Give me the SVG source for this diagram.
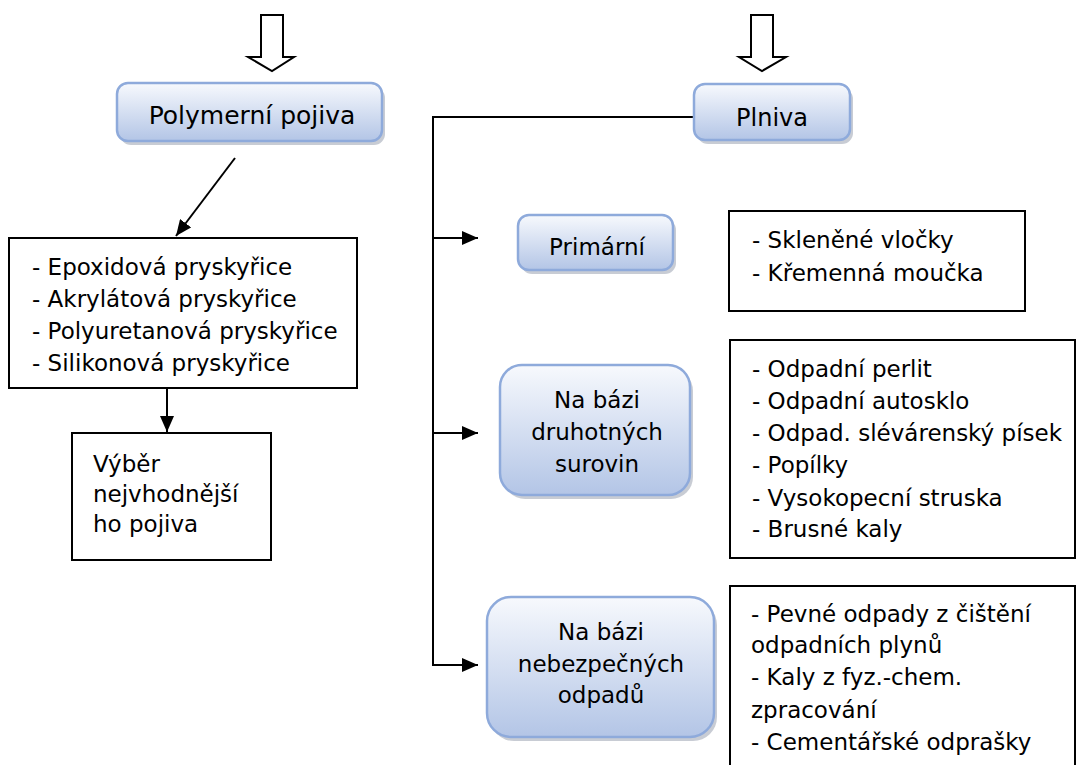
<svg xmlns="http://www.w3.org/2000/svg" width="1077" height="765" viewBox="0 0 1077 765">
<style>
text{font-family:"DejaVu Sans","Liberation Sans",sans-serif;fill:#000}
.t{font-size:23px}
.c{text-anchor:middle}
.rb{fill:url(#g);stroke:#8eaadb;stroke-width:2.5}
.sh{fill:#9aa3b0;opacity:.55}
.box{fill:#fff;stroke:#000;stroke-width:2}
.ln{fill:none;stroke:#000;stroke-width:2}
.ho{fill:#fff;stroke:#000;stroke-width:2;stroke-linejoin:miter}
</style>
<defs>
<linearGradient id="g" x1="0" y1="0" x2="0" y2="1">
<stop offset="0" stop-color="#f7f9fd"/>
<stop offset="1" stop-color="#b3c5e6"/>
</linearGradient>
<marker id="ah" markerWidth="10" markerHeight="10" refX="9" refY="5" orient="auto" markerUnits="userSpaceOnUse" viewBox="0 0 10 10">
<path d="M0,0 L10,5 L0,10 Z" fill="#000"/>
</marker>
<marker id="ah2" markerWidth="16" markerHeight="14" refX="16" refY="7" orient="auto" markerUnits="userSpaceOnUse" viewBox="0 0 16 14">
<path d="M0,0 L16,7 L0,14 Z" fill="#000"/>
</marker>
</defs>

<g id="input-arrow-left">
<path class="ho" d="M261,15 H283 V57 H294 L272,71 L248,57 H261 Z"/>
</g>
<g id="input-arrow-right">
<path class="ho" d="M751,15 H773 V57 H786 L762,71 L739,57 H751 Z"/>
</g>

<g id="connectors">
<line class="ln" x1="235" y1="158" x2="176" y2="236" marker-end="url(#ah2)"/>
<line class="ln" x1="167" y1="388" x2="167" y2="432" marker-end="url(#ah2)"/>
<polyline class="ln" points="694,117 433,117 433,665"/>
<line class="ln" x1="432" y1="238" x2="478" y2="238" marker-end="url(#ah2)"/>
<line class="ln" x1="432" y1="433" x2="478" y2="433" marker-end="url(#ah2)"/>
<line class="ln" x1="432" y1="665" x2="478" y2="665" marker-end="url(#ah2)"/>
</g>

<g id="polymerni-pojiva">
<rect class="sh" x="120" y="87" width="265" height="58" rx="11"/>
<rect class="rb" x="117" y="83" width="265" height="58" rx="11"/>
<text class="c" x="252" y="124" font-size="25">Polymerní pojiva</text>
</g>

<g id="plniva">
<rect class="sh" x="697" y="88" width="156" height="56" rx="11"/>
<rect class="rb" x="694" y="84" width="156" height="56" rx="11"/>
<text class="c" x="772" y="126" font-size="24">Plniva</text>
</g>

<g id="pryskyrice">
<rect class="box" x="9" y="238" width="348" height="150"/>
<text class="t" x="32" y="275">- Epoxidová pryskyřice</text>
<text class="t" x="32" y="307">- Akrylátová pryskyřice</text>
<text class="t" x="32" y="339">- Polyuretanová pryskyřice</text>
<text class="t" x="32" y="371">- Silikonová pryskyřice</text>
</g>

<g id="vyber">
<rect class="box" x="72" y="433" width="199" height="127"/>
<text class="t" x="93" y="472">Výběr</text>
<text class="t" x="93" y="502">nejvhodnější</text>
<text class="t" x="93" y="532">ho pojiva</text>
</g>

<g id="primarni">
<rect class="sh" x="521" y="219" width="155" height="55" rx="11"/>
<rect class="rb" x="518" y="215" width="155" height="55" rx="11"/>
<text class="t c" x="597" y="255">Primární</text>
</g>

<g id="primarni-list">
<rect class="box" x="729" y="211" width="296" height="100"/>
<text class="t" x="752" y="248">- Skleněné vločky</text>
<text class="t" x="752" y="281">- Křemenná moučka</text>
</g>

<g id="druhotne">
<rect class="sh" x="503" y="369" width="190" height="130" rx="22"/>
<rect class="rb" x="500" y="365" width="190" height="130" rx="22"/>
<text class="t c" x="597" y="408">Na bázi</text>
<text class="t c" x="597" y="440">druhotných</text>
<text class="t c" x="597" y="472">surovin</text>
</g>

<g id="druhotne-list">
<rect class="box" x="730" y="340" width="345" height="218"/>
<text class="t" x="752" y="377">- Odpadní perlit</text>
<text class="t" x="752" y="409">- Odpadní autosklo</text>
<text class="t" x="752" y="441">- Odpad. slévárenský písek</text>
<text class="t" x="752" y="473">- Popílky</text>
<text class="t" x="752" y="506">- Vysokopecní struska</text>
<text class="t" x="752" y="537">- Brusné kaly</text>
</g>

<g id="nebezpecne">
<rect class="sh" x="490" y="601" width="227" height="140" rx="24"/>
<rect class="rb" x="487" y="597" width="227" height="140" rx="24"/>
<text class="t c" x="601" y="640">Na bázi</text>
<text class="t c" x="601" y="672">nebezpečných</text>
<text class="t c" x="601" y="703">odpadů</text>
</g>

<g id="nebezpecne-list">
<rect class="box" x="730" y="586" width="345" height="190"/>
<text class="t" x="751" y="622">- Pevné odpady z čištění</text>
<text class="t" x="751" y="653">odpadních plynů</text>
<text class="t" x="751" y="685">- Kaly z fyz.-chem.</text>
<text class="t" x="751" y="718">zpracování</text>
<text class="t" x="751" y="750">- Cementářské odprašky</text>
</g>
</svg>
